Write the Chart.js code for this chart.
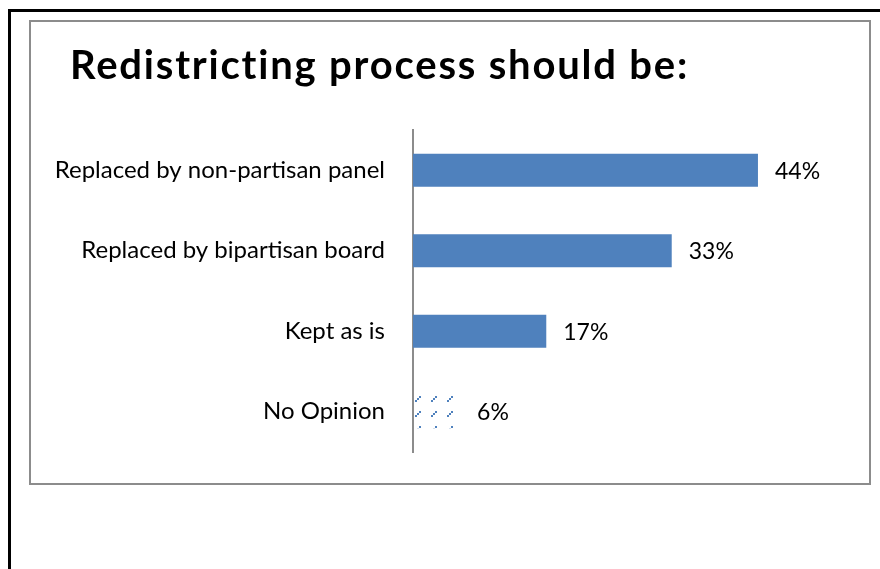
<!DOCTYPE html>
<html>
<head>
<meta charset="utf-8">
<script src="https://cdn.jsdelivr.net/npm/chart.js@4/dist/chart.umd.min.js"></script>
<style>
  body { margin: 0; background: #fff; }
  .frame { position: absolute; left: 8px; top: 9px; right: -10px; bottom: -10px;
           border-left: 3px solid #000; border-top: 3px solid #000; }
  .box { position: absolute; left: 29px; top: 20px; width: 842px; height: 465px;
         box-sizing: border-box; border: 2px solid #8c8c8c; }
  #chart { position: absolute; left: 0; top: 0; }
</style>
</head>
<body>
<div class="frame"></div>
<div class="box"></div>
<canvas id="chart" width="880" height="569"></canvas>
<script>
// survey answers
const categories = ["Replaced by non-partisan panel", "Replaced by bipartisan board", "Kept as is", "No Opinion"];
const values = [44, 33, 17, 6];
const titleText = "Redistricting process should be:";

const FONT = "Lato";
const blue = "#4F81BD";

// dotted diagonal hatch for the last bar
function hatch() {
    const c = document.createElement("canvas");
    c.width = 16; c.height = 15;
    const g = c.getContext("2d");
    g.fillStyle = blue;
    for (let i = 0; i < 3; i++) {
        g.fillRect(i * 2, 4 - i * 2, 2, 2);
    }
    const p = document.getElementById("chart").getContext("2d").createPattern(c, "repeat");
    p.setTransform(new DOMMatrix().translate(15, 6));
    return p;
}

const colors = values.map((v, i) => i === values.length - 1 ? hatch() : blue);

const titlePlugin = {
    id: "bigTitle",
    afterDraw(chart) {
        const ctx = chart.ctx;
        ctx.save();
        ctx.font = "bold 40px " + FONT;
        ctx.letterSpacing = "1.8px";
        ctx.fillStyle = "#000";
        ctx.textBaseline = "alphabetic";
        ctx.fillText(titleText, 70, 79);
        ctx.restore();
    }
};

const valueLabels = {
    id: "valueLabels",
    afterDatasetsDraw(chart) {
        const ctx = chart.ctx;
        const meta = chart.getDatasetMeta(0);
        ctx.save();
        ctx.font = "23px " + FONT;
        ctx.fillStyle = "#000";
        ctx.textBaseline = "middle";
        meta.data.forEach((bar, i) => {
            ctx.fillText(values[i] + "%", bar.x + 17, bar.y + 1);
        });
        ctx.restore();
    }
};

new Chart(document.getElementById("chart"), {
    type: "bar",
    data: {
        labels: categories,
        datasets: [{
            data: values,
            backgroundColor: colors,
            barPercentage: 0.41,
            categoryPercentage: 1
        }]
    },
    options: {
        indexAxis: "y",
        responsive: false,
        animation: false,
        devicePixelRatio: 1,
        layout: { padding: { left: 31, top: 130, right: 75, bottom: 117 } },
        plugins: {
            legend: { display: false },
            tooltip: { enabled: false }
        },
        scales: {
            x: { display: false, min: 0, max: 50 },
            y: {
                grid: { display: false, drawTicks: false },
                border: { display: true, color: "#8c8c8c", width: 2 },
                ticks: { color: "#000", padding: 28, font: { family: FONT, size: 24 } },
                afterFit(scale) { scale.width = 382; }
            }
        }
    },
    plugins: [titlePlugin, valueLabels]
});
</script>
</body>
</html>
